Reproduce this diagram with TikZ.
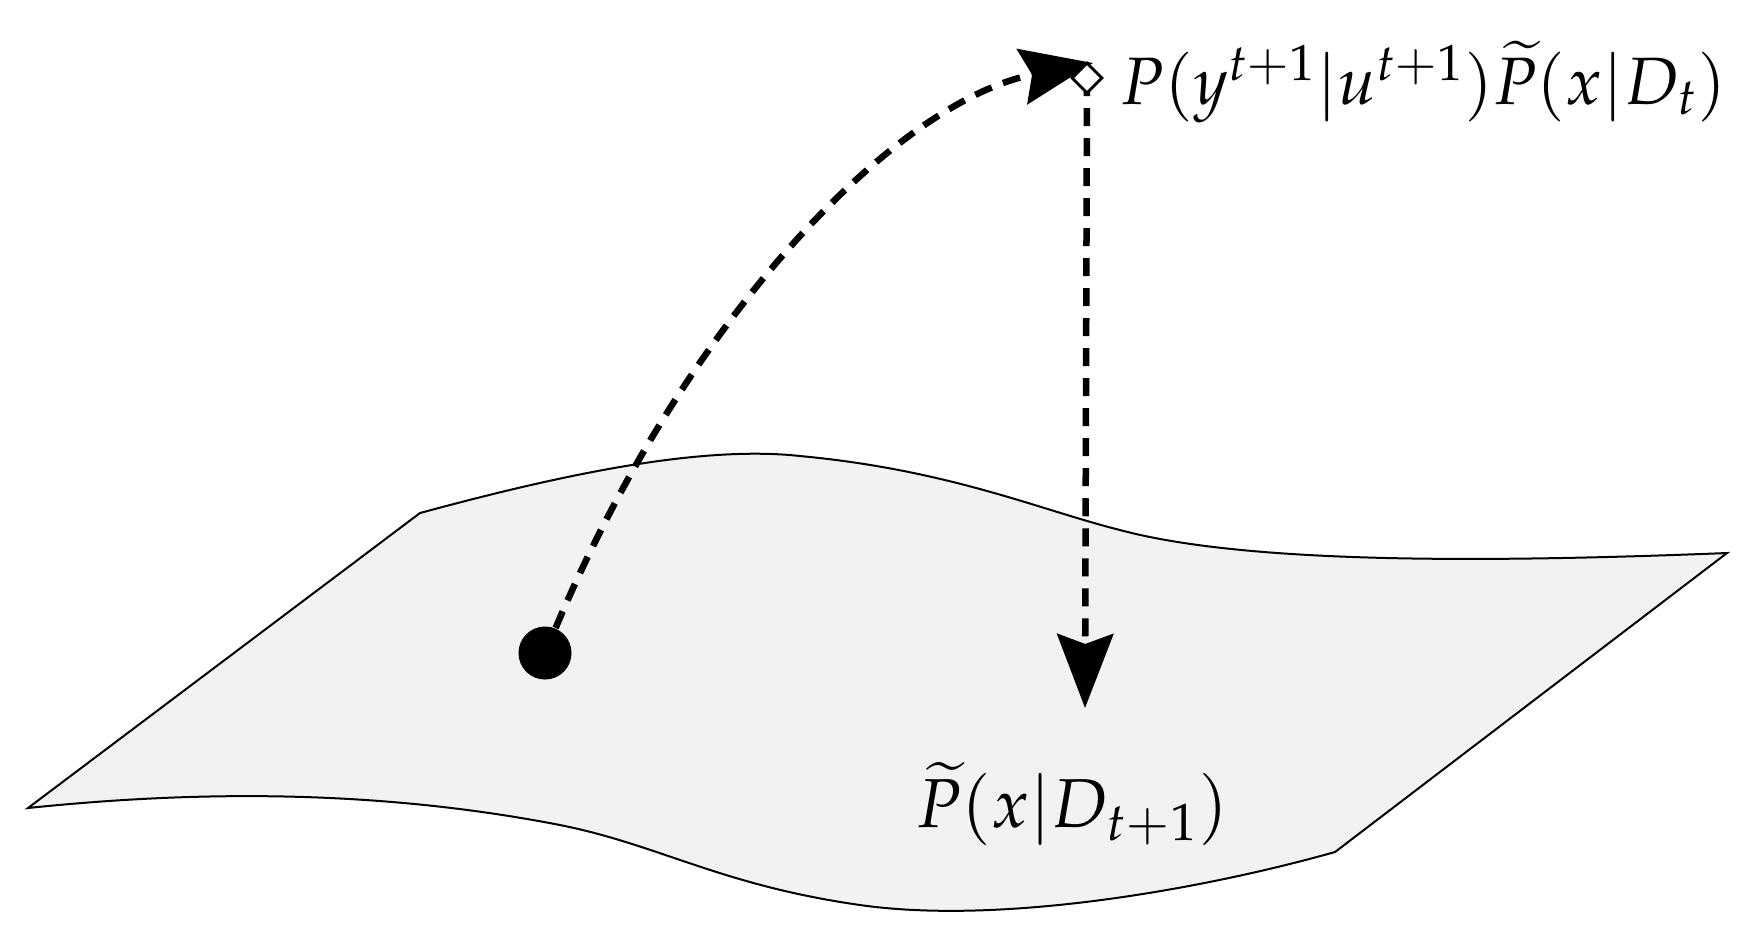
\documentclass[tikz,border=0pt]{standalone}
\usepackage{mathpazo}
\usetikzlibrary{arrows.meta}
\tikzset{
  surf/.style={draw=black, line width=0.02cm, fill=black!5},
  dashconn/.style={line width=0.065cm, dash pattern=on 0.18cm off 0.12cm},
  bighead/.style={-{Stealth[length=0.74cm,width=0.56cm,inset=0.1cm]}},
  tophead/.style={-{Stealth[length=0.72cm,width=0.56cm,inset=0.1cm]}},
  lbl/.style={font=\fontsize{19.7}{24}\selectfont, inner sep=0pt},
  lbltop/.style={font=\fontsize{19.05}{23}\selectfont, inner sep=0pt},
}
\begin{document}
\begin{tikzpicture}[x=0.01cm,y=-0.01cm]
\useasboundingbox (0,0) rectangle (1764,935);
% surface
\draw[surf] (28,808) -- (420,513)
  .. controls (560,475) and (700,445) .. (800,456)
  .. controls (950,470) and (1040,510) .. (1120,530)
  .. controls (1250,565) and (1500,562) .. (1727,553)
  -- (1335,852)
  .. controls (1200,890) and (1000,925) .. (860,905)
  .. controls (720,885) and (660,845) .. (560,825)
  .. controls (380,790) and (200,790) .. (28,808) -- cycle;
% nodes
\node[circle, fill=black, minimum size=0.53cm, inner sep=0pt] (dot) at (545,653) {};
\coordinate (top) at (1087,78);
\coordinate (tiptop) at (1093,63);
\coordinate (bot) at (1085,708);
\draw[dashconn, tophead] (dot) .. controls (690,310) and (900,100) .. (tiptop);
\draw[dashconn, bighead] (top) -- (bot);
\node[draw=black, fill=white, line width=0.028cm, minimum size=0.21cm, inner sep=0pt, rotate=45] (dia) at (top) {};
\node[lbltop, anchor=west] (ltop) at (1120,82) {$P(y^{t+1}|u^{t+1})\widetilde{P}(x|D_t)$};
\node[lbl] (lbot) at (1072,804) {$\widetilde{P}(x|D_{t+1})$};
\end{tikzpicture}
\end{document}
